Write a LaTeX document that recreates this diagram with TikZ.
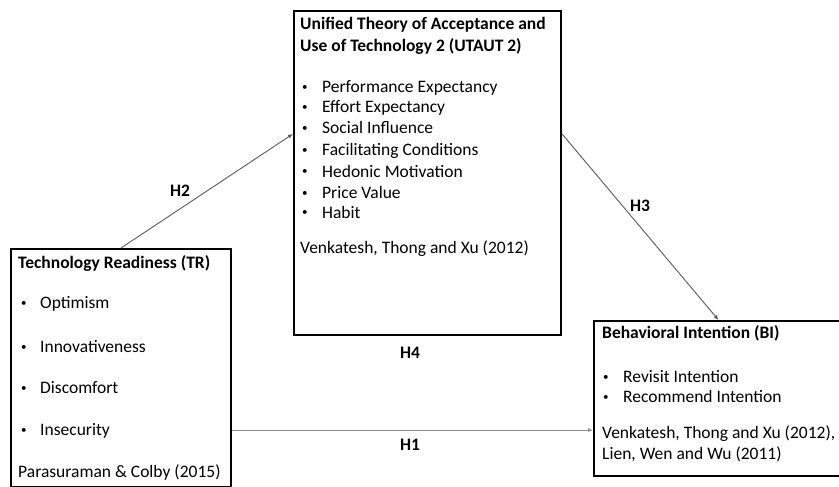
\documentclass[tikz,border=0pt]{standalone}
\usepackage{fontspec}
\setmainfont{Carlito}
\usetikzlibrary{arrows.meta,calc}

\newcommand{\dotmark}{\raisebox{2pt}{\fontsize{11}{11}\selectfont\textbullet}}

\tikzset{
	box/.style={draw=black, line width=2pt, inner sep=0pt, anchor=north west},
	txt/.style={anchor=base west, inner sep=0pt, font=\fontsize{17.5}{20}\selectfont},
	hd/.style={txt, font=\fontsize{17.5}{20}\selectfont\bfseries},
	hyp/.style={inner sep=0pt, font=\fontsize{17.5}{20}\selectfont\bfseries},
	link/.style={draw=black!65, line width=0.9pt, -{Latex[length=5pt,width=4pt]}},
}

\begin{document}
\begin{tikzpicture}[x=1pt,y=-1pt]
	\useasboundingbox (0,0) rectangle (839,487);
	% boxes
	\node[box, minimum width=220pt, minimum height=238pt] (tr) at (10,248) {};
	\node[box, minimum width=267pt, minimum height=324pt] (utaut) at (293,10) {};
	\node[box, minimum width=249pt, minimum height=155pt] (bi) at (593,320) {};
	% technology readiness
	\node[hd] (trhead) at (18,268) {Technology Readiness (TR)};
	\foreach \y/\t [count=\i] in {308/Optimism, 352/Innovativeness, 393/Discomfort, 435/Insecurity} {
		\node[txt] (trdot\i) at (21,\y) {\dotmark};
		\node[txt] (tritem\i) at (40,\y) {\t};
	}
	\node[txt] (trsrc) at (18,477) {Parasuraman \& Colby (2015)};
	% utaut 2
	\node[hd] (uthead1) at (300,30) {Unified Theory of Acceptance and};
	\node[hd] (uthead2) at (300,52) {Use of Technology 2 (UTAUT 2)};
	\foreach \y/\t [count=\i] in {93/Performance Expectancy, 113/Effort Expectancy, 134/Social Influence, 156/Facilitating Conditions, 177/Hedonic Motivation, 198/Price Value, 218/Habit} {
		\node[txt] (utdot\i) at (302,\y) {\dotmark};
		\node[txt] (utitem\i) at (322,\y) {\t};
	}
	\node[txt] (utsrc) at (300,253) {Venkatesh, Thong and Xu (2012)};
	% behavioral intention
	\node[hd] (bihead) at (602,338) {Behavioral Intention (BI)};
	\foreach \y/\t [count=\i] in {382/Revisit Intention, 402/Recommend Intention} {
		\node[txt] (bidot\i) at (603,\y) {\dotmark};
		\node[txt] (biitem\i) at (623,\y) {\t};
	}
	\node[txt] (bisrc1) at (602,438) {Venkatesh, Thong and Xu (2012),};
	\node[txt] (bisrc2) at (602,459) {Lien, Wen and Wu (2011)};
	% hypotheses
	\coordinate (h1y) at (0,430);
	\draw[link] (tr.north) -- ($(utaut.north west)!0.38!(utaut.south west)$);
	\draw[link] ($(utaut.north east)!0.38!(utaut.south east)$) -- (bi.north);
	\draw[link, draw=black!45] (tr.east |- h1y) -- (bi.west |- h1y);
	\node[hyp] (lh1) at (410,445) {H1};
	\node[hyp] (lh2) at (180,191) {H2};
	\node[hyp] (lh3) at (640,206) {H3};
	\node[hyp] (lh4) at (410,353) {H4};
\end{tikzpicture}
\end{document}
